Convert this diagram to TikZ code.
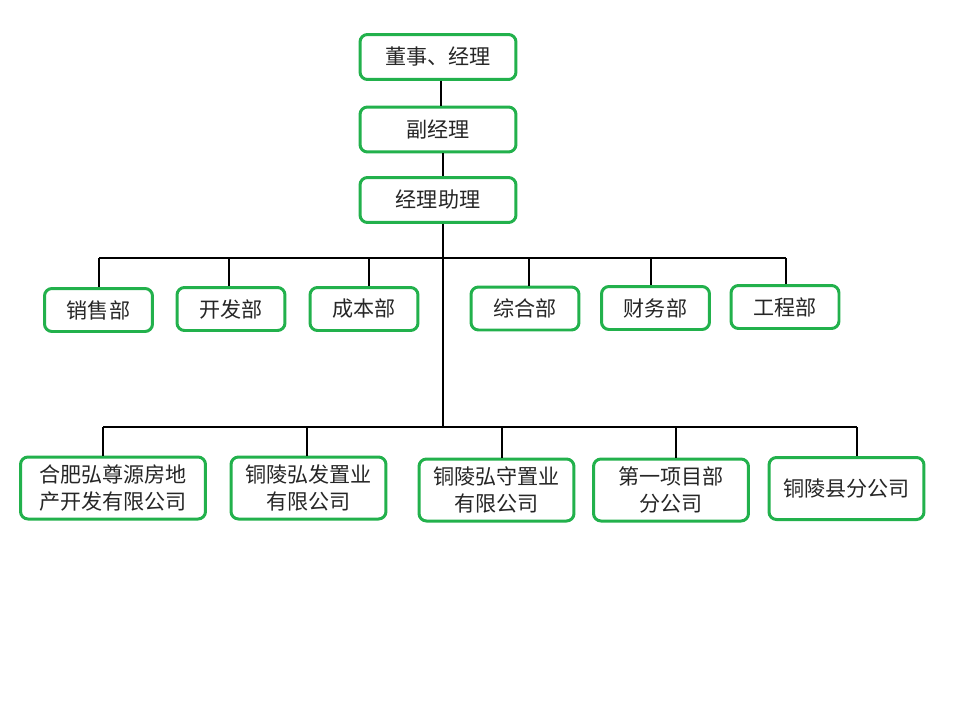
\documentclass[tikz,border=0pt]{standalone}
\usepackage{fontspec}
\setmainfont{Noto Sans CJK SC}
\definecolor{boxgreen}{RGB}{34,177,76}
\tikzset{
  box/.style={draw=boxgreen, line width=0.06cm, rounded corners=0.15cm, text=black!85,
    font=\fontsize{12}{15.5}\selectfont, align=center, inner sep=0pt},
  topbox/.style={box, minimum width=3.12cm, minimum height=0.9cm},
  deptbox/.style={box, minimum width=2.16cm, minimum height=0.86cm},
  firmbox/.style={box, minimum width=3.1cm, minimum height=1.24cm},
  link/.style={draw=black, line width=0.6pt}
}
\begin{document}
\begin{tikzpicture}[x=0.02cm, y=-0.02cm]
\useasboundingbox (0,0) rectangle (960,720);
% top of the chart
\node[topbox] (dsjl) at (438,57){董事、经理};
\node[topbox] (fjl) at (438,129.5){副经理};
\node[topbox] (jlzl) at (438,200){经理助理};
% departments
\node[deptbox] (xs) at (98.5,310){销售部};
\node[deptbox] (kf) at (231,309){开发部};
\node[deptbox] (cb) at (364,309){成本部};
\node[deptbox] (zh) at (525,308.5){综合部};
\node[deptbox] (cw) at (655.5,308){财务部};
\node[deptbox] (gc) at (785,307){工程部};
% companies
\node[firmbox, minimum width=3.7cm] (hf) at (113,488){合肥弘尊源房地\\产开发有限公司};
\node[firmbox] (hfa) at (308.5,488){铜陵弘发置业\\有限公司};
\node[firmbox] (hs) at (496.5,490){铜陵弘守置业\\有限公司};
\node[firmbox] (xm) at (671,490){第一项目部\\分公司};
\node[firmbox] (tlx) at (846.5,488.5){铜陵县分公司};
% bus lines
\coordinate (busa) at (443,258);
\coordinate (busb) at (443,427);
\draw[link] (441,0 |- dsjl.south) -- (441,0 |- fjl.north);
\draw[link] (443,0 |- fjl.south) -- (443,0 |- jlzl.north);
\draw[link] (jlzl.south -| busa) -- (busb);
\draw[link] (99,258) -- (786,258);
\draw[link] (103,427) -- (857,427);
\foreach \x/\n in {99/xs, 229/kf, 369/cb, 529/zh, 651/cw, 786/gc}
  \draw[link] (\x,258) -- (\x,258 |- \n.north);
\foreach \x/\n in {103/hf, 307/hfa, 502/hs, 676/xm, 857/tlx}
  \draw[link] (\x,427) -- (\x,427 |- \n.north);
\end{tikzpicture}
\end{document}
